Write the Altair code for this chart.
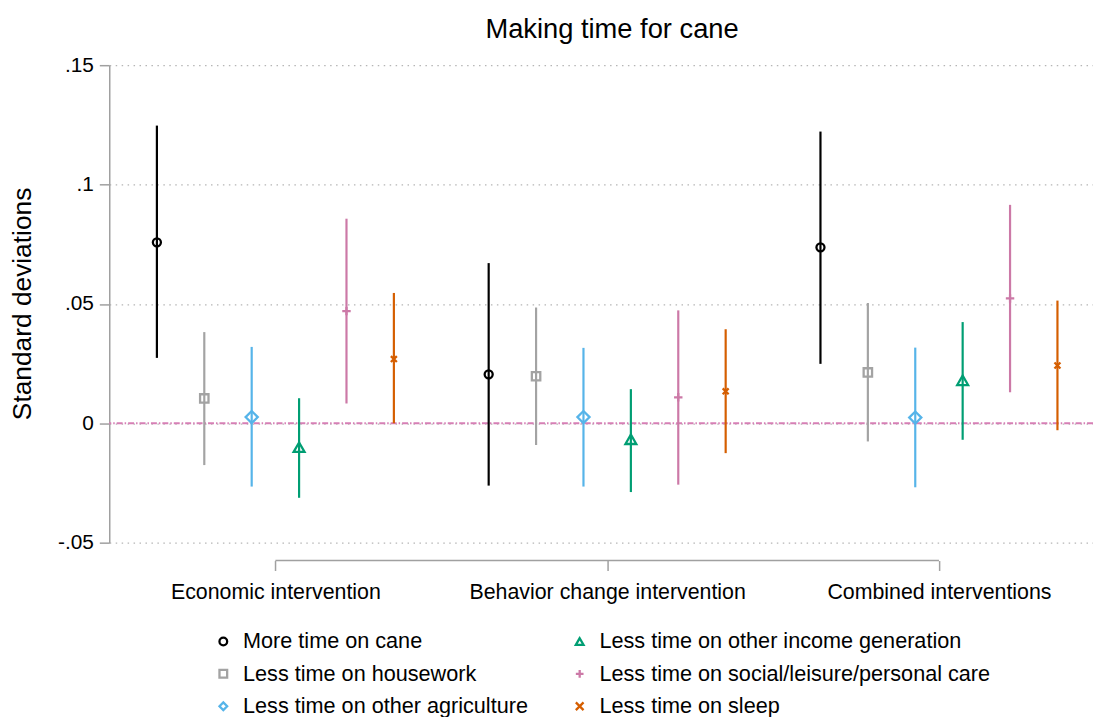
import altair as alt
import pandas as pd

groups = ["Economic intervention", "Behavior change intervention", "Combined interventions"]
series = [
    "More time on cane",
    "Less time on housework",
    "Less time on other agriculture",
    "Less time on other income generation",
    "Less time on social/leisure/personal care",
    "Less time on sleep",
]
# point estimates and confidence bounds, one list per intervention (series order as above)
est_econ = [0.0758, 0.0104, 0.0026, -0.0100, 0.0470, 0.0269]
lo_econ = [0.0274, -0.0175, -0.0265, -0.0312, 0.0083, 0.0000]
hi_econ = [0.1247, 0.0382, 0.0320, 0.0105, 0.0857, 0.0546]

est_behav = [0.0205, 0.0197, 0.0026, -0.0067, 0.0109, 0.0134]
lo_behav = [-0.0261, -0.0091, -0.0265, -0.0288, -0.0257, -0.0125]
hi_behav = [0.0671, 0.0485, 0.0316, 0.0143, 0.0473, 0.0394]

est_comb = [0.0737, 0.0213, 0.0024, 0.0180, 0.0523, 0.0242]
lo_comb = [0.0249, -0.0076, -0.0268, -0.0069, 0.0130, -0.0029]
hi_comb = [0.1222, 0.0504, 0.0317, 0.0424, 0.0915, 0.0514]

colors = ["#000000", "#a3a3a3", "#56B4E9", "#009E73", "#CC79A7", "#D55E00"]
shapes = ["circle", "square", "diamond", "triangle-up",
          "M-1,0L1,0M0,-1L0,1", "M-1,-1L1,1M1,-1L-1,1"]
sizes = [66, 72, 150, 120, 72, 36]

y_ticks = [-0.05, 0, 0.05, 0.1, 0.15]

rows = []
for gi, (e, l, h) in enumerate([(est_econ, lo_econ, hi_econ),
                                 (est_behav, lo_behav, hi_behav),
                                 (est_comb, lo_comb, hi_comb)]):
    for si, s in enumerate(series):
        rows.append({"group": groups[gi], "series": s, "xpos": gi * 7 + si,
                     "est": e[si], "lo": l[si], "hi": h[si],
                     "col": colors[si], "sz": sizes[si]})
df = pd.DataFrame(rows)

color_scale = alt.Scale(domain=series, range=colors)
shape_scale = alt.Scale(domain=series, range=shapes)

centers = [gi * 7 + 2.5 for gi in range(len(groups))]
label_expr = " : ".join(
    [f"datum.value < {c + 3.5} ? '{g}'" for c, g in zip(centers[:-1], groups[:-1])]
) + f" : '{groups[-1]}'"

FONT = "Liberation Sans"
xscale = alt.Scale(domain=[-1.005, 19.75], nice=False, zero=False)
yscale = alt.Scale(domain=[-0.05, 0.15], nice=False, zero=False)

xaxis = alt.Axis(
    values=centers, labelExpr=label_expr, title=None, grid=False, domain=False,
    tickSize=10, tickColor="#a0a0a0", tickWidth=1.5, offset=18,
    labelFontSize=21.5, labelFont=FONT, labelColor="#000000", labelPadding=11, labelLimit=500)
yaxis = alt.Axis(
    values=y_ticks,
    labelExpr="datum.value == 0 ? '0' : replace(replace(format(datum.value, '.2~f'), '0.', '.'), '\u2212', '-')",
    title="Standard deviations", titleFontSize=26.5, titleFont=FONT, titleFontWeight="normal",
    titleColor="#000000", titleX=-87, titleY=240, titleAngle=-90, titleAlign="center",
    titleBaseline="middle",
    grid=True, gridDash=[1.5, 4.5], gridColor="#b5b5b5", gridWidth=1.2,
    domain=True, domainColor="#a0a0a0", domainWidth=1.5,
    tickSize=10, tickColor="#a0a0a0", tickWidth=1.5,
    labelFontSize=21, labelFont=FONT, labelColor="#000000", labelPadding=6)

rules = alt.Chart(df).mark_rule(strokeWidth=2.2).encode(
    x=alt.X("xpos:Q", scale=xscale, axis=xaxis),
    y=alt.Y("lo:Q", scale=yscale, axis=yaxis),
    y2="hi:Q",
    color=alt.Color("col:N", scale=None),
)

points = alt.Chart(df).mark_point(filled=False, strokeWidth=2.3, opacity=1).encode(
    x=alt.X("xpos:Q", scale=xscale, axis=xaxis),
    y=alt.Y("est:Q", scale=yscale, axis=yaxis),
    color=alt.Color("series:N", scale=color_scale, legend=alt.Legend(
        title=None, orient="none", legendX=104, legendY=569.5, columns=2,
        columnPadding=41, rowPadding=9.7, padding=0, labelFontSize=21.8, labelFont=FONT,
        labelColor="#000000", labelOffset=9, symbolStrokeWidth=2.3, symbolSize=60,
        labelLimit=600)),
    shape=alt.Shape("series:N", scale=shape_scale),
    size=alt.Size("sz:Q", scale=None),
)

zero_df = pd.DataFrame({"est": [0]})
zero = alt.Chart(zero_df).mark_rule(color="#d67fb5", strokeWidth=2, strokeDash=[6, 2, 1.5, 2]).encode(
    y=alt.Y("est:Q", scale=yscale, axis=yaxis)
)

br_df = pd.DataFrame({"xpos": [centers[0]], "x2": [centers[-1]]})
bracket = alt.Chart(br_df).mark_rule(color="#a0a0a0", strokeWidth=1.5).encode(
    x=alt.X("xpos:Q", scale=xscale, axis=xaxis), x2="x2:Q", y=alt.value(499)
)

chart = alt.layer(zero, rules, points, bracket).properties(
    width=991, height=481,
    title=alt.TitleParams("Making time for cane", fontSize=27.5, font=FONT, fontWeight="normal",
                          color="#000000", anchor="middle", frame="group", dx=11, offset=11),
    padding={"left": 102, "top": 55, "right": 0, "bottom": 173},
    autosize=alt.AutoSizeParams(type="none"),
).configure(font=FONT).configure_view(stroke=None)

chart.save("out.html", embed_options={"renderer": "svg", "actions": False})
